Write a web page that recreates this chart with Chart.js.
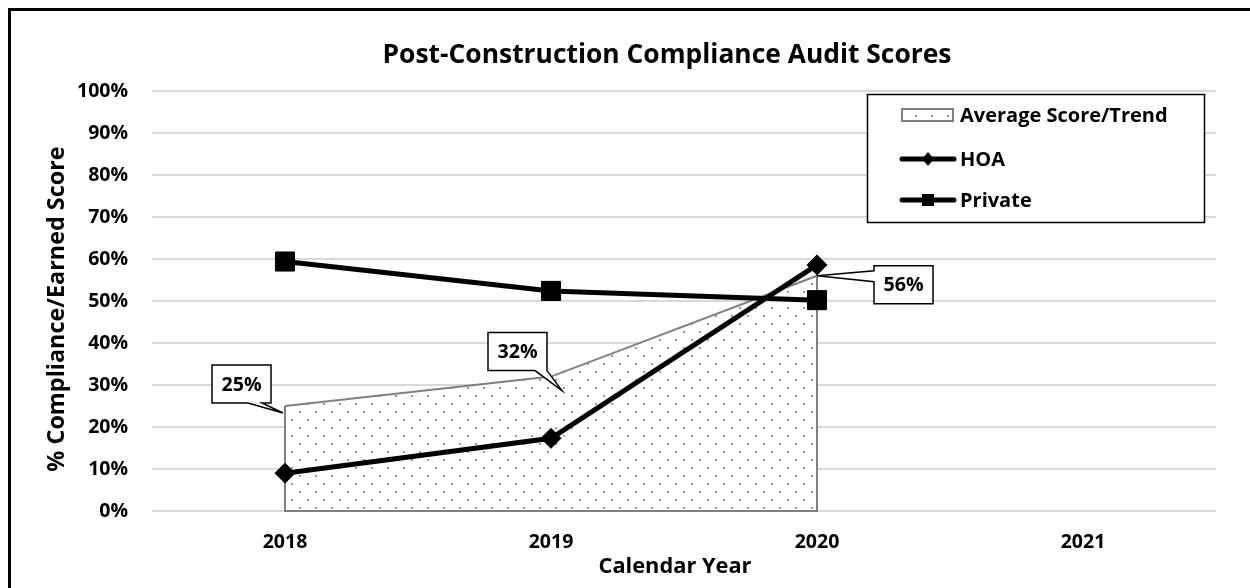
<!DOCTYPE html>
<html><head><meta charset="utf-8">
<script src="https://cdn.jsdelivr.net/npm/chart.js@4/dist/chart.umd.min.js"></script>
<style>html,body{margin:0;padding:0;background:#fff;} #wrap{width:1250px;height:588px;position:relative;overflow:hidden;}</style>
</head><body><div id="wrap"><canvas id="c" width="1250" height="588"></canvas></div>
<script>
// ---- data ----
const categories = ['2018', '2019', '2020', '2021'];
const averageScore = [25, 32, 56, null];
const hoaScores = [9.0, 17.3, 58.6, null];
const privateScores = [59.4, 52.4, 50.2, null];
const yTickValues = [0, 10, 20, 30, 40, 50, 60, 70, 80, 90, 100];
const seriesNames = ['Average Score/Trend', 'HOA', 'Private'];
const chartTitle = 'Post-Construction Compliance Audit Scores';
const xAxisTitle = 'Calendar Year';
const yAxisTitle = '% Compliance/Earned Score';

const FONT = '"Open Sans", Lato, "Liberation Sans", sans-serif';
const canvas = document.getElementById('c');
const ctx = canvas.getContext('2d');

// choose a font size so that a sample string gets a target width
function fitSize(text, target) {
  ctx.save();
  ctx.font = 'bold 100px ' + FONT;
  const w = ctx.measureText(text).width;
  ctx.restore();
  return Math.round(100 * target / w * 10) / 10;
}

function makePattern() {
  const p = document.createElement('canvas');
  p.width = 16; p.height = 16;
  const g = p.getContext('2d');
  g.fillStyle = '#ffffff'; g.fillRect(0, 0, 16, 16);
  g.fillStyle = '#9a9a9a';
  g.fillRect(3, 3, 2, 2);
  g.fillRect(11, 11, 2, 2);
  return ctx.createPattern(p, 'repeat');
}

function calloutPath(c, bx, by, w, h, side, a, b, tx, ty) {
  c.beginPath();
  c.moveTo(bx, by);
  c.lineTo(bx + w, by);
  c.lineTo(bx + w, by + h);
  if (side === 'bottom') { c.lineTo(b, by + h); c.lineTo(tx, ty); c.lineTo(a, by + h); }
  c.lineTo(bx, by + h);
  if (side === 'left') { c.lineTo(bx, b); c.lineTo(tx, ty); c.lineTo(bx, a); }
  c.closePath();
}

// callout placement relative to its point (style only)
const calloutStyle = [
  {dx: -73, dy: -41, side: 'bottom', a: -37, b: -23, tx: -2, ty: 7},
  {dx: -63, dy: -44, side: 'bottom', a: -16, b: -4, tx: 11, ty: 14},
  {dx: 57, dy: -10, side: 'left', a: -5, b: 6, tx: 0, ty: 0}
];

function build() {
  const pattern = makePattern();
  const sTitle = fitSize(chartTitle, 570);
  const sXTitle = fitSize(xAxisTitle, 153);
  const sYTitle = fitSize(yAxisTitle, 326);
  const sTick = fitSize('100%', 51);
  const sLegend = fitSize(seriesNames[0], 208);
  const sCallout = fitSize('25%', 40);

  const decor = {
    id: 'decor',
    afterDatasetDraw(chart, args) {
      if (args.index !== 0) return;
      const pts = args.meta.data.filter(p => !p.skip);
      if (!pts.length) return;
      const y0 = chart.scales.y.getPixelForValue(0);
      const c = chart.ctx;
      c.save();
      c.strokeStyle = '#808080'; c.lineWidth = 2;
      c.beginPath();
      c.moveTo(pts[0].x, pts[0].y);
      c.lineTo(pts[0].x, y0);
      c.lineTo(pts[pts.length - 1].x, y0);
      c.lineTo(pts[pts.length - 1].x, pts[pts.length - 1].y);
      c.stroke();
      c.restore();
    },
    afterDraw(chart) {
      const c = chart.ctx;
      c.save();
      // callouts for average series
      const meta = chart.getDatasetMeta(0);
      meta.data.forEach((pt, i) => {
        const v = averageScore[i];
        if (v === null || pt.skip || !calloutStyle[i]) return;
        const s = calloutStyle[i];
        const bx = pt.x + s.dx, by = pt.y + s.dy, w = 59, h = 38;
        let a, b;
        if (s.side === 'bottom') { a = pt.x + s.a; b = pt.x + s.b; } else { a = pt.y + s.a; b = pt.y + s.b; }
        calloutPath(c, bx, by, w, h, s.side, a, b, pt.x + s.tx, pt.y + s.ty);
        c.fillStyle = '#fff'; c.fill();
        c.strokeStyle = '#000'; c.lineWidth = 1.5; c.lineJoin = 'miter'; c.stroke();
        c.fillStyle = '#000';
        c.font = 'bold ' + sCallout + 'px ' + FONT;
        c.textAlign = 'center'; c.textBaseline = 'middle';
        c.fillText(Math.round(v) + '%', bx + w / 2, by + h / 2 + 1);
      });

      // legend
      c.fillStyle = '#fff';
      c.fillRect(867, 94, 337, 128);
      c.strokeStyle = '#000'; c.lineWidth = 1.5;
      c.strokeRect(867.5, 94.5, 337, 128);
      c.font = 'bold ' + sLegend + 'px ' + FONT;
      c.textAlign = 'left'; c.textBaseline = 'middle';
      c.fillStyle = pattern; c.fillRect(902, 109, 51, 12);
      c.strokeStyle = '#808080'; c.lineWidth = 2; c.strokeRect(902, 109, 51, 12);
      c.fillStyle = '#000';
      c.fillText(seriesNames[0], 960, 116);
      c.strokeStyle = '#000'; c.lineWidth = 5; c.lineCap = 'round';
      c.beginPath(); c.moveTo(902, 159); c.lineTo(954, 159); c.stroke();
      c.beginPath(); c.moveTo(928, 152); c.lineTo(934, 159); c.lineTo(928, 166); c.lineTo(922, 159); c.closePath();
      c.fillStyle = '#000'; c.fill();
      c.fillText(seriesNames[1], 960, 160);
      c.beginPath(); c.moveTo(902, 200); c.lineTo(954, 200); c.stroke();
      c.fillRect(922, 194, 12, 12);
      c.fillText(seriesNames[2], 960, 201);

      // titles
      c.textAlign = 'center'; c.textBaseline = 'middle';
      c.font = 'bold ' + sTitle + 'px ' + FONT;
      c.fillText(chartTitle, 667, 55);
      c.font = 'bold ' + sXTitle + 'px ' + FONT;
      c.fillText(xAxisTitle, 675, 567);
      c.save();
      c.font = 'bold ' + sYTitle + 'px ' + FONT;
      c.translate(57, 309); c.rotate(-Math.PI / 2);
      c.fillText(yAxisTitle, 0, 0);
      c.restore();

      // outer border (only top and left are inside the frame)
      c.strokeStyle = '#000'; c.lineWidth = 3;
      c.strokeRect(9.5, 9.5, 1300, 700);
      c.restore();
    }
  };

  new Chart(ctx, {
    type: 'line',
    data: {
      labels: categories,
      datasets: [
        {label: seriesNames[0], data: averageScore, borderColor: '#808080', borderWidth: 2,
         backgroundColor: pattern, fill: 'origin', pointRadius: 0, tension: 0, order: 3},
        {label: seriesNames[1], data: hoaScores, borderColor: '#000', backgroundColor: '#000', borderWidth: 5,
         pointStyle: 'rectRot', pointRadius: 10, pointBorderWidth: 1, pointBackgroundColor: '#000', pointBorderColor: '#000', tension: 0, fill: false, order: 1},
        {label: seriesNames[2], data: privateScores, borderColor: '#000', backgroundColor: '#000', borderWidth: 5,
         pointStyle: 'rect', pointRadius: 13.5, pointBorderWidth: 1, pointBackgroundColor: '#000', pointBorderColor: '#000', tension: 0, fill: false, order: 2}
      ]
    },
    options: {
      responsive: false,
      animation: false,
      events: [],
      layout: {padding: {top: 91, left: 0, right: 34, bottom: 0}},
      plugins: {legend: {display: false}, tooltip: {enabled: false}, title: {display: false}},
      scales: {
        x: {
          type: 'category', offset: true,
          grid: {display: false, drawTicks: false},
          border: {display: false},
          ticks: {color: '#000', font: {family: FONT, weight: 'bold', size: sTick}, padding: 20, maxRotation: 0},
          afterFit(s) { s.height = 77; }
        },
        y: {
          min: 0, max: 100,
          grid: {color: '#d9d9d9', lineWidth: 2, drawTicks: false},
          border: {display: false},
          afterBuildTicks(s) { s.ticks = yTickValues.map(v => ({value: v})); },
          ticks: {color: '#000', font: {family: FONT, weight: 'bold', size: sTick}, padding: 24, callback: v => v + '%'},
          afterFit(s) { s.width = 152; }
        }
      }
    },
    plugins: [decor]
  });
}

const loads = ['bold 20px "Open Sans"', 'bold 20px Lato'].map(f => document.fonts.load(f).catch(() => null));
Promise.all(loads).then(build, build);
</script>
</body></html>
